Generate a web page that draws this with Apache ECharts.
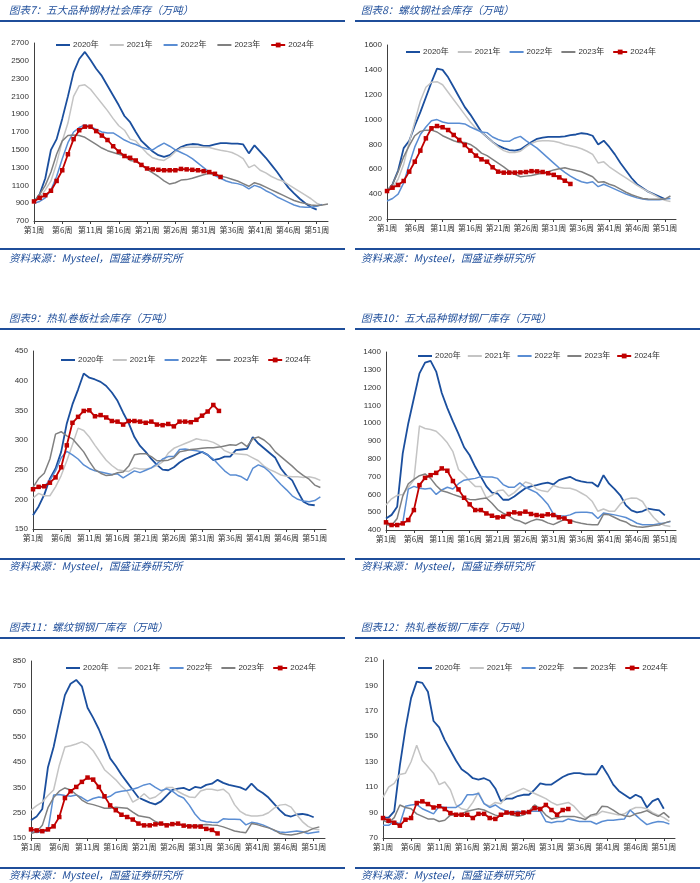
<!DOCTYPE html>
<html><head><meta charset="utf-8">
<script src="https://cdn.jsdelivr.net/npm/echarts@6.0.0/dist/echarts.min.js"></script>
<style>html,body{margin:0;padding:0;background:#fff}#c{width:700px;height:883px}</style>
</head><body><div id="c"></div>
<script>
// ---------- data ----------
const weeks = Array.from({length:53}, (_, i) => '第' + (i + 1) + '周');
const years = ['2020年','2021年','2022年','2023年','2024年'];
const titles = ['图表7：五大品种钢材社会库存（万吨）','图表8：螺纹钢社会库存（万吨）','图表9：热轧卷板社会库存（万吨）','图表10：五大品种钢材钢厂库存（万吨）','图表11：螺纹钢钢厂库存（万吨）','图表12：热轧卷板钢厂库存（万吨）'];
const sourceText = '资料来源：Mysteel，国盛证券研究所';

const ticks7 = [700,900,1100,1300,1500,1700,1900,2100,2300,2500,2700];
const ticks8 = [200,400,600,800,1000,1200,1400,1600];
const ticks9 = [150,200,250,300,350,400,450];
const ticks10 = [400,500,600,700,800,900,1000,1100,1200,1300,1400];
const ticks11 = [150,250,350,450,550,650,750,850];
const ticks12 = [70,90,110,130,150,170,190,210];

const p7_2020 = [910,1000,1180,1500,1620,1850,2100,2370,2520,2600,2510,2410,2330,2220,2110,2000,1880,1810,1700,1600,1540,1480,1440,1420,1440,1490,1530,1555,1565,1560,1545,1545,1560,1575,1575,1570,1570,1560,1460,1550,1480,1410,1330,1250,1160,1075,1010,950,900,855,828];
const p7_2021 = [920,960,1050,1150,1350,1600,1800,2100,2220,2230,2180,2100,2020,1940,1850,1770,1720,1620,1600,1530,1460,1410,1390,1380,1420,1480,1520,1530,1530,1530,1530,1525,1510,1495,1485,1470,1440,1400,1300,1330,1270,1240,1200,1170,1150,1110,1070,1030,990,950,900,875];
const p7_2022 = [900,920,960,1050,1200,1400,1580,1700,1750,1780,1760,1730,1700,1690,1690,1650,1610,1580,1560,1530,1510,1500,1540,1575,1540,1500,1470,1440,1400,1350,1300,1250,1210,1180,1150,1130,1120,1100,1060,1100,1080,1040,1010,970,940,910,880,860,855,855,865,885];
const p7_2023 = [920,1000,1100,1250,1450,1600,1660,1665,1660,1640,1600,1560,1520,1490,1470,1450,1430,1380,1370,1330,1280,1240,1200,1150,1115,1130,1160,1165,1180,1200,1220,1235,1220,1205,1190,1170,1150,1120,1090,1130,1110,1080,1050,1020,990,960,930,910,895,880,875,880,890];
const p7_2024 = [920,960,990,1040,1150,1270,1450,1620,1720,1760,1760,1710,1660,1610,1540,1480,1430,1410,1380,1330,1290,1280,1275,1270,1270,1270,1285,1280,1275,1270,1260,1250,1230,1195];

const p8_2020 = [420,480,590,770,830,950,1060,1180,1300,1410,1400,1340,1260,1180,1100,1040,970,900,860,820,790,770,755,750,760,790,820,845,855,860,860,860,865,875,880,890,885,870,800,830,780,720,650,590,530,480,450,420,400,380,360];
const p8_2021 = [430,450,520,640,820,980,1150,1260,1300,1305,1280,1220,1160,1100,1040,980,930,900,860,820,780,750,735,735,745,780,810,825,830,830,825,815,800,790,780,765,745,720,650,660,620,590,560,530,500,470,445,420,395,370,350,340];
const p8_2022 = [345,365,400,490,640,780,880,940,990,1000,980,970,970,970,965,940,920,900,895,860,840,825,825,850,865,830,800,770,730,690,650,610,575,545,520,500,490,500,460,480,460,440,420,400,385,370,360,355,355,355,360,365];
const p8_2023 = [430,480,580,700,790,870,905,915,915,900,870,850,830,815,815,800,770,730,710,680,650,620,585,560,540,545,550,560,570,580,595,605,612,600,590,580,560,540,495,500,480,465,440,415,395,380,365,360,358,358,360,385];
const p8_2024 = [425,452,474,506,581,661,750,849,930,948,938,916,876,836,795,750,710,680,661,616,581,573,573,573,575,578,585,583,578,568,555,535,508,482];

const p9_2020 = [173,188,208,235,252,280,328,360,385,412,405,402,398,391,380,366,346,328,305,290,280,268,258,250,249,254,262,268,272,276,280,275,266,268,272,272,283,284,285,305,294,286,278,270,252,240,232,213,196,191,190];
const p9_2021 = [202,210,206,206,221,240,265,292,320,316,305,291,278,266,257,250,248,247,253,251,251,253,257,263,278,286,290,294,298,302,300,299,296,291,282,278,277,276,275,270,265,256,250,246,241,239,238,238,237,238,236,232];
const p9_2022 = [218,220,222,232,248,270,281,275,268,258,252,248,246,244,242,243,236,242,248,245,249,253,260,268,272,272,284,285,283,282,280,275,268,258,248,241,241,238,232,252,258,254,246,235,225,216,206,200,197,196,198,204];
const p9_2023 = [220,235,244,268,310,314,307,302,291,280,264,250,244,240,241,245,246,256,275,277,277,272,265,265,266,270,280,282,284,285,286,287,287,288,290,292,291,296,289,302,305,300,292,280,272,264,256,247,240,234,224,220];
const p9_2024 = [217,221,222,228,237,254,291,329,339,349,350,340,342,338,332,331,326,332,332,331,329,331,326,325,327,323,331,331,330,334,341,348,359,349];

const p10_2020 = [465,485,530,830,1000,1140,1280,1340,1350,1290,1170,1085,1010,940,865,820,755,700,645,610,605,570,570,588,612,635,645,652,660,666,656,680,690,699,682,673,668,666,643,708,660,630,595,540,510,499,505,520,515,510,482];
const p10_2021 = [540,575,595,600,640,680,985,970,965,955,925,890,840,740,710,675,645,645,580,595,620,625,590,610,640,670,660,630,620,615,650,640,635,635,625,608,590,560,505,518,505,505,545,572,580,578,560,510,470,440,425,420];
const p10_2022 = [440,430,430,440,630,645,635,630,635,600,625,640,630,660,680,685,690,700,698,698,690,655,640,640,665,640,625,610,580,545,490,478,478,485,498,500,500,495,465,495,490,485,478,470,455,438,430,430,430,435,440,448];
const p10_2023 = [430,425,465,590,660,685,705,715,690,650,620,612,600,590,580,572,570,575,580,550,515,495,480,458,450,435,450,460,455,440,430,445,460,455,445,438,432,430,430,488,485,470,455,445,425,418,415,420,425,428,440,450];
const p10_2024 = [443,428,428,437,456,512,652,693,708,721,746,733,675,628,581,544,512,512,493,480,471,475,490,499,493,503,490,484,480,488,484,471,465,447];

const p11_2020 = [220,235,265,430,510,615,715,760,775,750,665,625,580,525,465,435,400,370,340,310,300,290,283,295,318,340,345,348,339,352,348,360,365,380,368,360,355,350,340,365,342,328,310,285,260,240,235,243,245,241,232];
const p11_2021 = [260,278,292,318,340,437,510,515,522,530,518,495,460,420,400,380,355,335,292,305,325,305,312,330,350,350,334,322,312,310,336,343,343,338,343,325,282,255,242,237,237,240,250,268,280,283,272,242,215,196,186,183];
const p11_2022 = [175,172,175,180,320,322,318,315,320,310,296,306,312,308,315,330,335,338,343,350,360,365,350,337,345,335,318,308,280,245,220,214,212,211,226,224,224,223,202,212,208,202,192,180,174,172,175,178,175,168,172,175];
const p11_2023 = [168,175,200,270,310,335,348,340,322,300,287,282,275,268,268,272,270,268,252,238,234,230,215,207,205,205,203,201,200,198,201,203,201,200,194,186,178,174,171,207,203,196,190,182,168,164,162,166,172,178,188,194];
const p11_2024 = [184,180,177,184,196,233,308,335,352,372,389,381,352,315,279,260,242,233,223,207,200,200,204,207,200,205,207,199,196,196,195,186,182,168];

const p12_2020 = [86,86,91,127,156,180,193,192,185,162,157,147,139,131,124,121,117,116,117,115,109,99,101,101,103,104,104,108,113,112,112,115,118,120,121,121,120,120,120,127,120,112,107,104,101,104,102,94,99,101,93];
const p12_2021 = [102,110,113,120,121,130,143,131,126,121,112,114,108,96,93,92,98,106,97,95,98,97,103,105,107,109,107,105,103,101,98,96,97,98,95,90,86,87,88,91,90,89,88,89,92,94,94,93,90,88,86,83];
const p12_2022 = [80,80,83,81,95,96,96.5,93,91,89,95,94,94,94,97,104,104,105,97,94,96,93,91,90,91,90,91,91,91,83,82,83,83,85,84,83,83,83,81,83,84,84,84.5,85,92,88,84,80.5,82,83,82.5,81];
const p12_2023 = [84,82,86,96,94,93,89,87,85,85,83,84,88,88,89,91,92,93,92,90,88,87,90,88,87,88,91,96,93,88,85,86,87,87,87,86,84.5,88,89,95,94.5,92,89,87.5,87,89,90,91.5,89,87,90,86];
const p12_2024 = [85.7,83.6,82,79.7,84.4,85.7,97.5,98.8,96.7,94,95,92.8,89.6,88.3,88.3,88.3,85.7,89,89,85.7,85,88.3,90,89.6,89,90,90.4,93.5,92.8,96,92,88.3,92,92.8];

const panelData = [
  [p7_2020,p7_2021,p7_2022,p7_2023,p7_2024],
  [p8_2020,p8_2021,p8_2022,p8_2023,p8_2024],
  [p9_2020,p9_2021,p9_2022,p9_2023,p9_2024],
  [p10_2020,p10_2021,p10_2022,p10_2023,p10_2024],
  [p11_2020,p11_2021,p11_2022,p11_2023,p11_2024],
  [p12_2020,p12_2021,p12_2022,p12_2023,p12_2024]
];
const panelTicks = [ticks7,ticks8,ticks9,ticks10,ticks11,ticks12];

// ---------- layout & style ----------
const BLUE = '#1F4E9A';
const layout = [
  {col:0,row:0,grid:{left:34,top:43,width:294,height:178},leg:{left:55,top:41,gap:10}},
  {col:1,row:0,grid:{left:387,top:45,width:289,height:174},leg:{left:405,top:48,gap:8}},
  {col:0,row:1,grid:{left:33,top:351,width:293,height:178},leg:{left:60,top:356,gap:8}},
  {col:1,row:1,grid:{left:386,top:352,width:290,height:178},leg:{left:417,top:352,gap:6}},
  {col:0,row:2,grid:{left:31,top:661,width:294,height:177},leg:{left:65,top:664,gap:8}},
  {col:1,row:2,grid:{left:383,top:660,width:292,height:178},leg:{left:417,top:664,gap:8}}
];
const rows = [{title:10,ruleTop:20,ruleBot:248,src:258},{title:318,ruleTop:328,ruleBot:558,src:566},{title:627,ruleTop:637,ruleBot:867,src:875}];
const cols = [{x0:0,x1:345,tx:9},{x0:355,x1:700,tx:361}];
const seriesStyle = [
  {color:'#1B4F9E',width:1.8},
  {color:'#C4C4C4',width:1.5},
  {color:'#5A8DD3',width:1.5},
  {color:'#808080',width:1.5},
  {color:'#C00000',width:1.8}
];
const gcd = (a,b) => b ? gcd(b, a % b) : a;

const grids=[],xAxes=[],yAxes=[],series=[],legends=[],graphics=[];
layout.forEach((L,i)=>{
  grids.push(Object.assign({containLabel:false},L.grid));
  xAxes.push({type:'category',gridIndex:i,data:weeks,boundaryGap:false,
    axisLine:{lineStyle:{color:'#404040',width:1}},
    axisTick:{interval:4,length:3,lineStyle:{color:'#404040'}},
    axisLabel:{interval:4,fontSize:8,color:'#333',margin:5,fontFamily:'"Noto Sans CJK SC"'},
    splitLine:{show:false}});
  const t = panelTicks[i];
  const step = gcd(t[0], t[1]-t[0]);
  yAxes.push({type:'value',gridIndex:i,min:t[0],max:t[t.length-1],interval:step,
    axisLine:{show:true,lineStyle:{color:'#404040',width:1}},
    axisTick:{show:false},splitLine:{show:false},
    axisLabel:{fontSize:8,color:'#333',margin:5,fontFamily:'"Liberation Sans",Arial',
      formatter:v => t.indexOf(v) >= 0 ? String(v) : ''}});
  panelData[i].forEach((d,k)=>{
    const st = seriesStyle[k];
    series.push({type:'line',name:years[k],xAxisIndex:i,yAxisIndex:i,data:d,
      symbol:k===4?'rect':'none',symbolSize:k===4?4.5:0,showSymbol:k===4,showAllSymbol:true,
      lineStyle:{color:st.color,width:st.width},itemStyle:{color:st.color},
      z:k===4?5:2,silent:true});
  });
  legends.push({left:L.leg.left,top:L.leg.top,itemGap:L.leg.gap,itemWidth:14,itemHeight:6,
    data:years.map((y,k)=>k===4?{name:y}:{name:y,itemStyle:{opacity:0}}),
    textStyle:{fontSize:8,color:'#333',fontFamily:'"Liberation Sans","Noto Sans CJK SC"',padding:[0,0,0,-2]},
    padding:0,selectedMode:false});
  const R = rows[L.row], C = cols[L.col];
  graphics.push({type:'text',x:C.tx,y:R.title,style:{text:titles[i],fill:BLUE,
    font:'italic 10.5px "Noto Sans CJK SC"',verticalAlign:'middle'}});
  graphics.push({type:'rect',shape:{x:C.x0,y:R.ruleTop,width:C.x1-C.x0,height:2},style:{fill:BLUE}});
  graphics.push({type:'rect',shape:{x:C.x0,y:R.ruleBot,width:C.x1-C.x0,height:2},style:{fill:BLUE}});
  graphics.push({type:'text',x:C.tx,y:R.src,style:{text:sourceText,fill:BLUE,
    font:'italic 10.5px "Noto Sans CJK SC"',verticalAlign:'middle'}});
});

const chart = echarts.init(document.getElementById('c'), null, {renderer:'canvas'});
chart.setOption({
  animation:false,backgroundColor:'#fff',
  grid:grids,xAxis:xAxes,yAxis:yAxes,series:series,legend:legends,graphic:graphics
});
</script></body></html>
